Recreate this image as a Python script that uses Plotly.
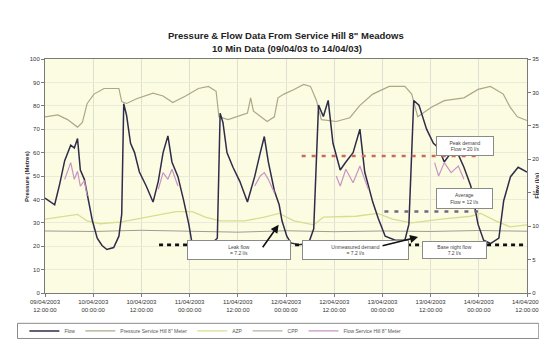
import plotly.graph_objects as go

# ---------------- data (hours from 09/04/2003 12:00) ----------------
tick_hours = [0, 12, 24, 36, 48, 60, 72, 84, 96, 108, 120]
tick_labels = ["09/04/2003<br>12:00:00", "10/04/2003<br>00:00:00", "10/04/2003<br>12:00:00",
               "11/04/2003<br>00:00:00", "11/04/2003<br>12:00:00", "12/04/2003<br>00:00:00",
               "12/04/2003<br>12:00:00", "13/04/2003<br>00:00:00", "13/04/2003<br>12:00:00",
               "14/04/2003<br>00:00:00", "14/04/2003<br>12:00:00"]

# Flow (l/s) - right axis
flow_h = [0, 2.4, 3.7, 4.9, 6.4, 7.3, 8.1, 8.8, 9.8, 10.5, 11.8, 13.0, 14.2, 15.4, 17.1, 18.4, 19.1,
          19.6, 20.3, 21.3, 22.3, 23.5, 25.2, 26.9, 28.2, 29.4, 30.6, 31.6, 33.1, 34.5, 35.8, 36.7,
          38.7, 41.1, 42.9, 43.6, 44.3, 45.3, 46.8, 48.5, 50.4, 52.2, 53.6, 54.6, 55.6, 57.1, 58.3,
          59.0, 60.2, 61.2, 63.2, 65.6, 66.9, 68.1, 69.3, 70.5, 71.7, 73.5, 74.9, 76.7, 78.4, 79.6,
          81.6, 83.0, 84.7, 87.2, 89.6, 90.6, 91.8, 93.1, 95.0, 96.7, 98.0, 99.4, 101.1, 102.9,
          104.3, 106.0, 107.8, 109.2, 110.9, 113.0, 114.2, 115.9, 117.8, 120.0]
flow_q = [14.2, 13.2, 16.4, 19.8, 22.1, 21.7, 23.1, 18.4, 17.0, 15.0, 10.8, 8.2, 7.1, 6.5, 6.8, 8.5, 11.8,
          28.3, 26.6, 22.4, 21.0, 18.1, 16.0, 13.6, 16.7, 21.0, 23.5, 19.6, 17.4, 13.9, 10.3, 7.1,
          7.1, 7.2, 8.2, 26.9, 25.5, 21.0, 18.8, 16.7, 13.6, 17.4, 21.0, 23.4, 19.6, 15.3, 13.2,
          10.8, 8.5, 7.5, 7.2, 7.4, 9.6, 28.1, 26.4, 28.8, 22.4, 18.4, 19.6, 21.0, 24.5, 18.1,
          13.6, 11.1, 8.5, 7.9, 7.9, 10.3, 28.8, 28.1, 24.5, 22.4, 21.7, 19.6, 21.0, 20.7,
          18.8, 16.0, 10.3, 7.9, 7.4, 8.2, 13.8, 17.4, 18.8, 18.1]

# Second flow series (l/s) - right axis, shown during the day peaks
flow2_h = [4.9, 6.4, 7.3, 8.1, 8.8, 9.8, 10.5, None,
           28.2, 29.4, 30.6, 31.6, 33.1, None,
           52.2, 53.6, 54.6, 55.6, 57.1, None,
           72.5, 73.5, 74.9, 76.7, 78.4, 79.6, 80.5, None,
           97.0, 98.0, 99.4, 101.1, 102.9, 104.3]
flow2_q = [17.0, 19.5, 17.0, 18.2, 16.0, 16.8, 14.5, None,
           15.5, 18.0, 17.0, 18.5, 16.0, None,
           16.0, 17.5, 18.0, 17.0, 15.0, None,
           17.5, 16.0, 18.5, 16.5, 19.0, 17.0, 15.5, None,
           19.5, 17.5, 19.5, 18.0, 19.0, 17.0]

# Inlet pressure (m) - left axis
inlet_h = [0, 3.2, 5.6, 8.1, 9.3, 10.5, 12.2, 14.7, 18.4, 19.1, 20.3, 22.8, 26.9, 29.4, 31.8, 35.0,
           38.2, 40.7, 42.6, 43.3, 45.6, 50.4, 51.2, 51.9, 55.3, 57.1, 58.0, 59.5, 62.0, 64.4, 66.1,
           67.6, 68.8, 72.5, 75.9, 78.4, 81.6, 85.7, 89.6, 91.3, 92.8, 96.2, 99.4, 104.3, 107.8,
           110.9, 114.1, 115.8, 117.6, 120.0]
inlet_p = [75.3, 76.1, 74.1, 70.9, 72.9, 81.0, 85.0, 87.4, 87.4, 81.8, 81.0, 83.0, 85.4, 84.2, 81.4, 84.2,
           87.4, 88.3, 86.2, 75.3, 74.1, 76.9, 83.4, 77.7, 73.3, 75.3, 83.4, 85.0, 87.0, 89.1, 88.3,
           82.2, 74.1, 73.3, 74.9, 80.2, 85.0, 88.3, 88.3, 85.0, 75.3, 79.4, 82.2, 83.4, 87.0,
           88.3, 85.0, 79.4, 75.3, 73.7]

# AZP pressure (m) - left axis
azp_h = [0, 5.6, 8.1, 10.5, 13.7, 19.1, 22.8, 27.7, 32.6, 36.7, 39.9, 43.6, 49.7, 54.6, 58.3, 62.0,
         66.9, 69.3, 77.4, 82.8, 86.5, 91.3, 98.7, 106.0, 108.5, 112.2, 115.8, 120.0]
azp_p = [31.6, 32.8, 33.6, 30.8, 29.6, 30.4, 31.6, 33.2, 34.8, 34.8, 32.4, 30.8, 30.8, 32.4, 34.0, 30.8,
         29.1, 32.4, 32.8, 34.0, 31.6, 30.0, 31.6, 32.8, 34.0, 30.8, 28.3, 29.1]

# CPP pressure (m) - left axis
cpp_h = [0, 12, 24, 36, 48, 60, 72, 84, 96, 108, 120]
cpp_p = [26.5, 26.3, 26.8, 26.4, 26.0, 26.6, 26.2, 26.5, 26.3, 26.7, 26.4]

# reference flow levels (l/s)
night_h = [28.4, 120.0]
night_q = [7.2, 7.2]
peak_h = [63.9, 107.3]
peak_q = [20.5, 20.5]
avg_h = [84.5, 107.8]
avg_q = [12.2, 12.2]

# ---------------- figure ----------------
FONT = "Liberation Sans"
fig = go.Figure()

fig.add_trace(go.Scatter(x=cpp_h, y=cpp_p, name="CPP", mode="lines",
                         line=dict(color="#a09c90", width=1)))
fig.add_trace(go.Scatter(x=azp_h, y=azp_p, name="AZP", mode="lines",
                         line=dict(color="#d8dd90", width=1.3)))
fig.add_trace(go.Scatter(x=inlet_h, y=inlet_p, name="Pressure Service Hill 8\" Meter", mode="lines",
                         line=dict(color="#aca788", width=1.2)))
fig.add_trace(go.Scatter(x=flow_h, y=flow_q, name="Flow", mode="lines", yaxis="y2",
                         line=dict(color="#2f2c4a", width=1.5)))
fig.add_trace(go.Scatter(x=flow2_h, y=flow2_q, name="Flow Service Hill 8\" Meter", mode="lines",
                         yaxis="y2", connectgaps=False,
                         line=dict(color="#c994c4", width=1.2)))
fig.add_trace(go.Scatter(x=night_h, y=night_q, mode="lines", yaxis="y2", showlegend=False,
                         line=dict(color="#111111", width=2.6, dash="4px,4px")))
fig.add_trace(go.Scatter(x=peak_h, y=peak_q, mode="lines", yaxis="y2", showlegend=False,
                         line=dict(color="#c86a5c", width=2.6, dash="4px,6px")))
fig.add_trace(go.Scatter(x=avg_h, y=avg_q, mode="lines", yaxis="y2", showlegend=False,
                         line=dict(color="#6e6a7c", width=2.6, dash="4px,6px")))

# legend order as in reference
order = ["Flow", "Pressure Service Hill 8\" Meter", "AZP", "CPP", "Flow Service Hill 8\" Meter"]
for tr in fig.data:
    if tr.name in order:
        tr.legendrank = order.index(tr.name) + 1


def px(x):
    return (x - 37) / 491.0


def py(y):
    return (298 - y) / 247.0


ann = []
ann.append(dict(text="<b>Pressure & Flow Data From Service Hill 8\" Meadows</b>", x=px(282), y=py(18),
                xref="paper", yref="paper", showarrow=False, font=dict(size=9.5, family=FONT, color="#222")))
ann.append(dict(text="<b>10 Min Data (09/04/03 to 14/04/03)</b>", x=px(284), y=py(32),
                xref="paper", yref="paper", showarrow=False, font=dict(size=9.5, family=FONT, color="#222")))
ann.append(dict(text="<b>Pressure (Metres)</b>", x=px(14), y=py(175), textangle=-90,
                xref="paper", yref="paper", showarrow=False, font=dict(size=6, family=FONT, color="#222")))
ann.append(dict(text="<b>Flow (l/s)</b>", x=px(543), y=py(185), textangle=-90,
                xref="paper", yref="paper", showarrow=False, font=dict(size=6, family=FONT, color="#222")))

boxes = [
    ("Leak flow<br>= 7.2 l/s", 235, 263, 102, 18),
    ("Unmeasured demand<br>= 7.2 l/s", 353.5, 263, 105, 18),
    ("Base night flow<br>7.2 l/s", 487.5, 262, 63, 16),
    ("Peak demand<br>Flow = 20 l/s", 494, 143, 56, 18),
    ("Average<br>Flow = 12 l/s", 493.5, 198, 55, 19),
]
for t, cx, cy, w, h in boxes:
    ann.append(dict(text=t, x=px(cx), y=py(cy), xref="paper", yref="paper", showarrow=False,
                    width=w, height=h, bgcolor="white", bordercolor="#8a8a8a", borderwidth=1,
                    borderpad=0, font=dict(size=5, family=FONT, color="#444")))

# arrows
ann.append(dict(x=px(275), y=py(226), xref="paper", yref="paper", ax=-17, ay=24, text="",
                showarrow=True, arrowhead=2, arrowsize=1, arrowwidth=1.6, arrowcolor="#111"))
ann.append(dict(x=px(417), y=py(239), xref="paper", yref="paper", ax=-37, ay=9, text="",
                showarrow=True, arrowhead=2, arrowsize=1, arrowwidth=1.6, arrowcolor="#111"))

shapes = [dict(type="rect", xref="paper", yref="paper", x0=px(9), x1=px(540), y0=py(330), y1=py(346),
               line=dict(color="#8a8a8a", width=1), fillcolor="rgba(0,0,0,0)", layer="below")]

fig.update_layout(
    width=547, height=349,
    margin=dict(l=37, r=19, t=51, b=51),
    paper_bgcolor="white", plot_bgcolor="#fcfce2",
    font=dict(family=FONT, size=6, color="#333"),
    annotations=ann, shapes=shapes,
    legend=dict(orientation="h", x=px(16), y=py(338), xanchor="left", yanchor="middle",
                bgcolor="rgba(0,0,0,0)", font=dict(size=5, family=FONT, color="#555"),
                itemwidth=30, tracegroupgap=0),
    xaxis=dict(range=[0, 120], tickvals=tick_hours, ticktext=tick_labels, tickangle=0,
               showgrid=True, gridcolor="#e0e0d0", gridwidth=1, zeroline=False,
               showline=True, linecolor="#7a7a7a", linewidth=1, mirror=True,
               ticks="outside", ticklen=3, tickcolor="#7a7a7a", tickfont=dict(size=6)),
    yaxis=dict(range=[0, 100], dtick=10, showgrid=True, gridcolor="#ebebda", zeroline=False,
               showline=True, linecolor="#7a7a7a", linewidth=1,
               ticks="outside", ticklen=3, tickcolor="#7a7a7a", tickfont=dict(size=6)),
    yaxis2=dict(range=[0, 35], dtick=5, overlaying="y", side="right", showgrid=False,
                zeroline=False, showline=True, linecolor="#7a7a7a", linewidth=1,
                ticks="outside", ticklen=3, tickcolor="#7a7a7a", tickfont=dict(size=6)),
)

fig.write_html("out.html")
